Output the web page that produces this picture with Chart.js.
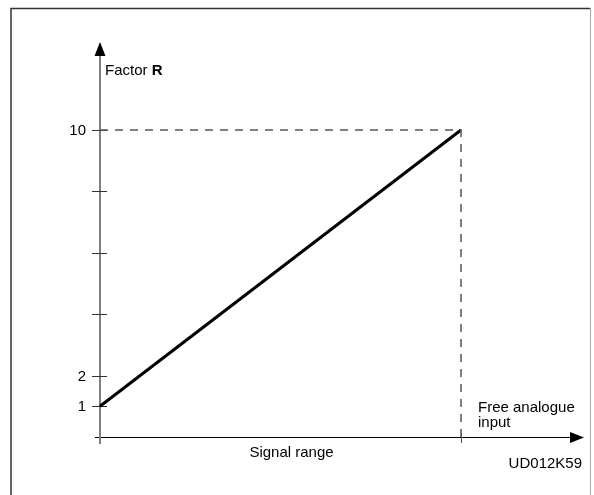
<!DOCTYPE html>
<html>
<head>
<meta charset="utf-8">
<script src="https://cdn.jsdelivr.net/npm/chart.js@4"></script>
<style>
  html, body { margin: 0; padding: 0; background: #fff; }
  #wrap { width: 594px; height: 495px; position: relative; }
</style>
</head>
<body>
<div id="wrap"><canvas id="chart" width="594" height="495"></canvas></div>
<script>
// signal (0 = start, 1 = end of signal range) vs factor R
const signalPos = [0, 1];
const factorR = [1, 10];
const yTicks = [1, 2, 4, 6, 8, 10];
const yTickLabels = ['1', '2', '', '', '', '10'];
const xTicks = [0, 1];
const yTitle = 'Factor ';
const yTitleBold = 'R';
const xTitle = 'Signal range';
const xEndLabel = ['Free analogue', 'input'];
const figureCode = 'UD012K59';

const FONT = '"Liberation Sans", Arial, sans-serif';

const mainLine = signalPos.map((x, i) => ({ x: x, y: factorR[i] }));
const guideLine = [
  { x: signalPos[0], y: factorR[1] },
  { x: signalPos[1], y: factorR[1] },
  { x: signalPos[1], y: 0 }
];

const diagramPlugin = {
  id: 'diagram',
  beforeDatasetsDraw(chart) {
    const ctx = chart.ctx;
    const xs = chart.scales.x, ys = chart.scales.y;
    const x0 = xs.getPixelForValue(0);
    const y0 = ys.getPixelForValue(0);

    ctx.save();
    // frame
    ctx.lineWidth = 1.5;
    ctx.strokeStyle = '#333';
    ctx.beginPath();
    ctx.moveTo(11, 495);
    ctx.lineTo(11, 8.5);
    ctx.lineTo(590, 8.5);
    ctx.stroke();
    ctx.strokeStyle = '#aaa';
    ctx.lineWidth = 1;
    ctx.beginPath();
    ctx.moveTo(590.5, 8);
    ctx.lineTo(590.5, 495);
    ctx.stroke();

    // x axis
    ctx.strokeStyle = '#000';
    ctx.lineWidth = 1;
    ctx.beginPath();
    ctx.moveTo(x0 - 5, Math.round(y0) + 0.5);
    ctx.lineTo(574, Math.round(y0) + 0.5);
    ctx.stroke();
    ctx.fillStyle = '#000';
    ctx.beginPath();
    ctx.moveTo(584, y0 + 0.5);
    ctx.lineTo(570, y0 - 5);
    ctx.lineTo(570, y0 + 6);
    ctx.closePath();
    ctx.fill();
    xTicks.forEach(v => {
      if (v === 0) return;
      const px = Math.round(xs.getPixelForValue(v)) + 0.5;
      ctx.strokeStyle = '#555';
      ctx.beginPath();
      ctx.moveTo(px, y0 - 4);
      ctx.lineTo(px, y0 + 6);
      ctx.stroke();
    });

    // y axis
    ctx.strokeStyle = '#808080';
    ctx.lineWidth = 2;
    ctx.beginPath();
    ctx.moveTo(x0, y0 + 7);
    ctx.lineTo(x0, 54);
    ctx.stroke();
    ctx.fillStyle = '#000';
    ctx.beginPath();
    ctx.moveTo(x0, 42);
    ctx.lineTo(x0 - 5.5, 56);
    ctx.lineTo(x0 + 5.5, 56);
    ctx.closePath();
    ctx.fill();

    // y ticks and labels
    ctx.font = '15px ' + FONT;
    ctx.textAlign = 'right';
    ctx.textBaseline = 'middle';
    yTicks.forEach((v, i) => {
      const py = Math.round(ys.getPixelForValue(v)) + 0.5;
      ctx.strokeStyle = '#333';
      ctx.lineWidth = 1;
      ctx.beginPath();
      ctx.moveTo(x0 - 8, py);
      ctx.lineTo(x0 + 7, py);
      ctx.stroke();
      if (yTickLabels[i]) {
        ctx.fillStyle = '#000';
        ctx.fillText(yTickLabels[i], x0 - 14, py);
      }
    });

    // texts
    ctx.textAlign = 'left';
    ctx.textBaseline = 'alphabetic';
    ctx.fillStyle = '#000';
    ctx.font = '15px ' + FONT;
    ctx.fillText(yTitle, x0 + 5, 75);
    const w = ctx.measureText(yTitle).width;
    ctx.font = 'bold 15px ' + FONT;
    ctx.fillText(yTitleBold, x0 + 5 + w, 75);

    ctx.font = '15px ' + FONT;
    const xEnd = xs.getPixelForValue(1);
    ctx.fillText(xEndLabel[0], xEnd + 17, 412);
    ctx.fillText(xEndLabel[1], xEnd + 17, 427);

    ctx.textAlign = 'center';
    ctx.fillText(xTitle, (x0 + xEnd) / 2 + 11, 457);
    ctx.textAlign = 'right';
    ctx.fillText(figureCode, 582, 468);
    ctx.restore();
  }
};

new Chart(document.getElementById('chart'), {
  type: 'line',
  data: {
    datasets: [
      {
        data: guideLine,
        borderColor: '#555',
        borderWidth: 1.5,
        borderDash: [8, 7],
        pointRadius: 0,
        fill: false,
        tension: 0,
        clip: false
      },
      {
        data: mainLine,
        borderColor: '#000',
        borderWidth: 3,
        pointRadius: 0,
        fill: false,
        tension: 0,
        clip: false
      }
    ]
  },
  options: {
    responsive: false,
    animation: false,
    layout: { padding: { left: 100, right: 133, top: 130, bottom: 58 } },
    plugins: {
      legend: { display: false },
      tooltip: { enabled: false }
    },
    scales: {
      x: { type: 'linear', min: 0, max: 1, display: false },
      y: { type: 'linear', min: 0, max: 10, display: false }
    }
  },
  plugins: [diagramPlugin]
});
</script>
</body>
</html>
